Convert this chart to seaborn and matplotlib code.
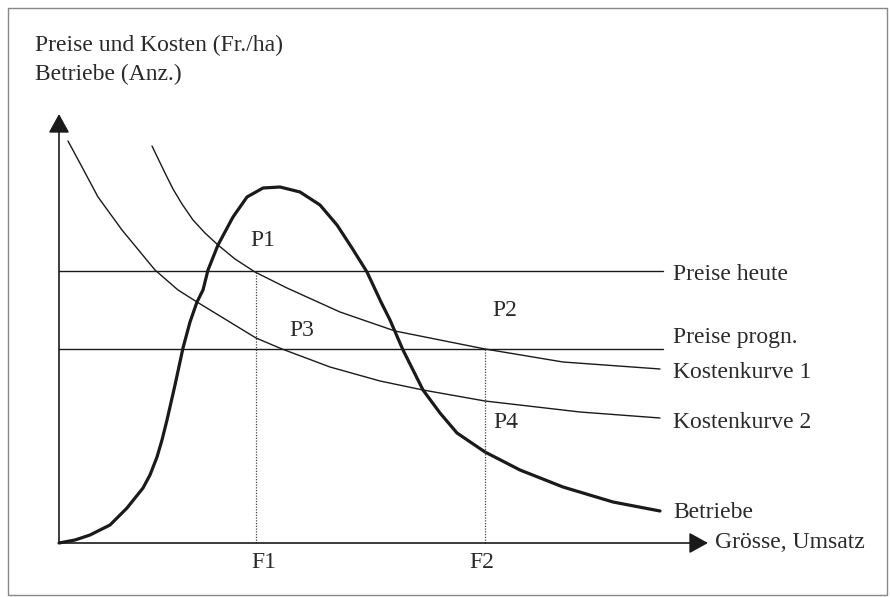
"""
Schematic: prices, cost curves and number of farms vs. size
"""
import matplotlib
matplotlib.use("Agg")
import matplotlib.pyplot as plt
import seaborn as sns
import pandas as pd
from matplotlib.patches import Rectangle

# Curve values (x = size, y = price / count, arbitrary units)
betriebe_x = [0, 16, 31, 51, 68, 84, 91, 98, 103, 108, 116, 124, 131, 138, 144, 149, 159,
              174, 188, 204, 221, 241, 261, 278, 293, 308, 322, 331, 344, 364, 381, 398,
              426, 461, 504, 554, 601]
betriebe_y = [0, 3, 8, 18, 35, 55, 68, 86, 103, 123, 158, 195, 221, 241, 253, 273, 298,
              326, 346, 355, 356, 351, 338, 318, 295, 271, 241, 223, 193, 153, 130, 110,
              91, 73, 56, 41, 32]

kosten1_x = [93, 106, 114, 123, 134, 146, 159, 176, 196, 228, 281, 336, 371, 426, 504, 601]
kosten1_y = [397, 370, 354, 339, 323, 310, 298, 284, 271, 255, 231, 212, 205, 194, 181, 174]

kosten2_x = [9, 23, 39, 63, 96, 119, 138, 197, 223, 271, 321, 364, 426, 521, 601]
kosten2_y = [402, 376, 346, 313, 273, 253, 241, 205, 194, 176, 162, 153, 142, 131, 125]

preis_heute = 272
preis_progn = 194
line_end = 604
f1 = 197
f2 = 426

right_labels = ["Preise heute", "Preise progn.", "Kostenkurve 1", "Kostenkurve 2", "Betriebe"]
right_label_y = [268, 205, 170, 120, 30]

sns.set_style("white")
plt.rcParams["font.family"] = ["Liberation Serif", "DejaVu Serif"]

fig = plt.figure(figsize=(8.9, 5.97), dpi=100)
ax = fig.add_axes([0, 0, 1, 1])
ax.set_xlim(-59, 831)
ax.set_ylim(-54, 543)
ax.axis("off")

ink = "#1a1a1a"
txt = "#2a2a2a"
fs = 17

# outer frame
ax.add_patch(Rectangle((0.009, 0.004), 0.988, 0.982, transform=ax.transAxes,
                       fill=False, edgecolor="#888888", lw=1.0))

# price lines
prices = pd.DataFrame({"x": [0, line_end, 0, line_end],
                       "y": [preis_heute, preis_heute, preis_progn, preis_progn],
                       "s": ["heute", "heute", "progn", "progn"]})
sns.lineplot(data=prices, x="x", y="y", units="s", estimator=None,
             color=ink, lw=1.0, ax=ax)

# cost curves
sns.lineplot(x=kosten1_x, y=kosten1_y, sort=False, color=ink, lw=1.0, ax=ax)
sns.lineplot(x=kosten2_x, y=kosten2_y, sort=False, color=ink, lw=1.0, ax=ax)

# number of farms
sns.lineplot(x=betriebe_x, y=betriebe_y, sort=False, color=ink, lw=2.3, ax=ax,
             solid_joinstyle="round", solid_capstyle="round")

# dotted drop lines
ax.plot([f1, f1], [0, preis_heute], color="#444444", lw=0.9, ls=(0, (1, 1.2)))
ax.plot([f2, f2], [0, preis_progn], color="#444444", lw=0.9, ls=(0, (1, 1.2)))

# axes with arrows
arrow = dict(arrowstyle="-|>,head_length=0.58,head_width=0.32",
             color=ink, lw=1.2, mutation_scale=20, shrinkA=0, shrinkB=0)
ax.annotate("", xy=(0, 429), xytext=(0, 0), arrowprops=arrow)
ax.annotate("", xy=(649, 0), xytext=(0, 0), arrowprops=arrow)

# texts
ax.text(-24, 498, "Preise und Kosten (Fr./ha)", fontsize=fs, color=txt, va="center")
ax.text(-24, 469, "Betriebe (Anz.)", fontsize=fs, color=txt, va="center")
for lab, y in zip(right_labels, right_label_y):
    ax.text(614, y, lab, fontsize=fs, color=txt, va="center")
ax.text(656, 0, "Grösse, Umsatz", fontsize=fs, color=txt, va="center")

ax.text(204, 302, "P1", fontsize=fs, color=txt, ha="center", va="center")
ax.text(446, 233, "P2", fontsize=fs, color=txt, ha="center", va="center")
ax.text(243, 213, "P3", fontsize=fs, color=txt, ha="center", va="center")
ax.text(447, 120, "P4", fontsize=fs, color=txt, ha="center", va="center")
ax.text(205, -19, "F1", fontsize=fs, color=txt, ha="center", va="center")
ax.text(423, -19, "F2", fontsize=fs, color=txt, ha="center", va="center")

fig.savefig("out.png", dpi=100)
